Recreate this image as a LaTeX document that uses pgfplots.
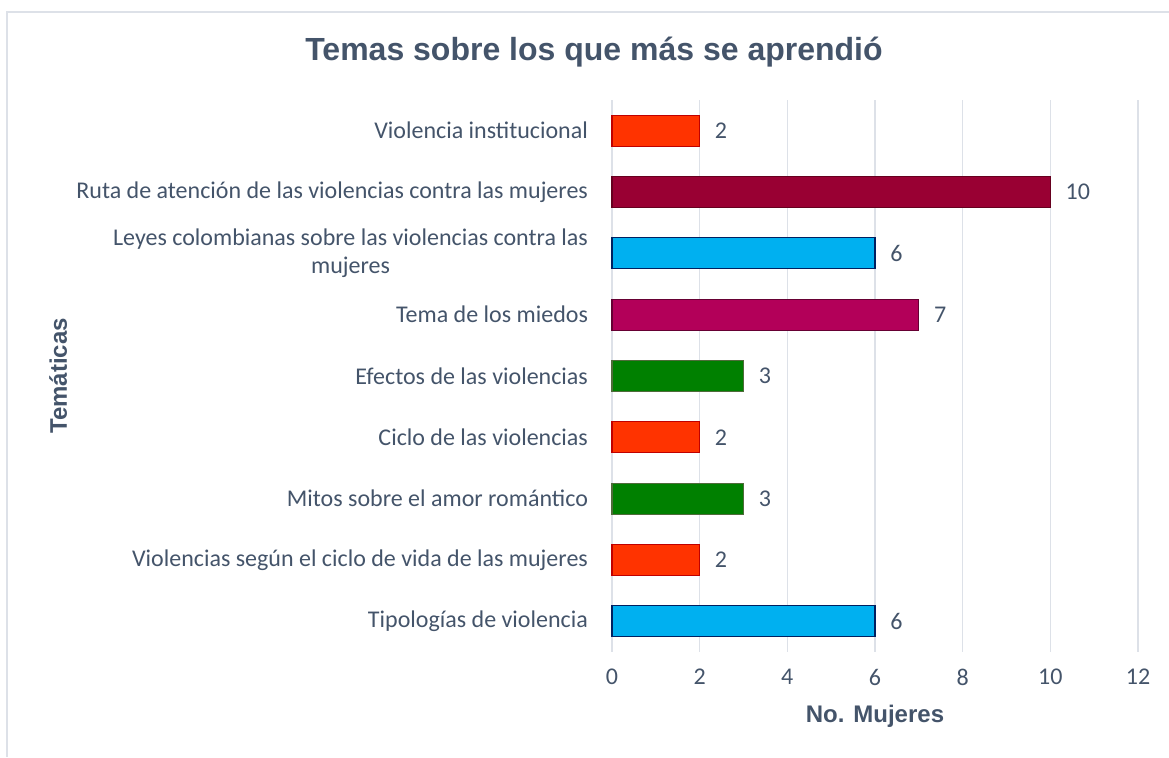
\documentclass[border=0pt]{standalone}
\usepackage{fontspec}
\setmainfont{Carlito}[Numbers=Lining]
\newfontfamily\arialfont{Liberation Sans}
\usepackage{pgfplots}
\pgfplotsset{compat=1.18}
\definecolor{txt}{HTML}{44546A}
\definecolor{gridc}{HTML}{DDE1E8}
\definecolor{framec}{HTML}{DDE1E8}
\definecolor{cred}{HTML}{FF3300}
\definecolor{credb}{HTML}{C00000}
\definecolor{cmar}{HTML}{990033}
\definecolor{cmarb}{HTML}{66001F}
\definecolor{cblue}{HTML}{00B0F0}
\definecolor{cblueb}{HTML}{002060}
\definecolor{cmag}{HTML}{B30059}
\definecolor{cmagb}{HTML}{660033}
\definecolor{cgreen}{HTML}{008000}
\definecolor{cgreenb}{HTML}{4F6B3A}
\begin{document}
\begin{tikzpicture}
% 1 px of the reference = 0.5pt
\useasboundingbox (0pt,0pt) rectangle (584.5pt,-378.5pt);
\draw[framec,line width=1pt] (3.25pt,-378.5pt) -- (3.25pt,-5.75pt) -- (584.5pt,-5.75pt);
\node[text=txt,font=\arialfont\bfseries\fontsize{16}{19}\selectfont] at (297pt,-26pt) {Temas sobre los que más se aprendió};
\begin{axis}[
  at={(306pt,-326pt)}, anchor=south west,
  scale only axis,
  width=263pt, height=276pt,
  xbar, bar shift=0pt, bar width=15.5pt,
  xmin=0, xmax=12, xtick={0,2,...,12},
  ymin=0.5, ymax=9.5, y dir=reverse,
  ytick={1,...,9},
  yticklabels={Violencia institucional,Ruta de atención de las violencias contra las mujeres,{Leyes colombianas sobre las violencias contra las\\mujeres},Tema de los miedos,Efectos de las violencias,Ciclo de las violencias,Mitos sobre el amor romántico,Violencias según el ciclo de vida de las mujeres,Tipologías de violencia},
  yticklabel style={align=center,text=txt,font=\fontsize{12}{14}\selectfont,xshift=-8.5pt},
  xticklabel style={text=txt,font=\fontsize{12}{14}\selectfont,yshift=-5pt},
  /pgf/number format/assume math mode=true,
  major tick length=0pt,
  axis line style={draw=none},
  xmajorgrids, grid style={gridc,line width=0.8pt},
  xlabel={No. Mujeres}, ylabel={Temáticas},
  xlabel style={text=txt,font=\arialfont\bfseries\fontsize{12}{14}\selectfont,yshift=-3pt},
  ylabel style={at={(axis description cs:-1.053,0.5)},anchor=center,text=txt,font=\arialfont\bfseries\fontsize{12}{14}\selectfont},
  nodes near coords,
  nodes near coords style={anchor=west,text=txt,font=\fontsize{12}{14}\selectfont,xshift=4pt},
  clip=false,
]
\addplot[fill=cred,draw=credb,line width=0.6pt] coordinates {(2,1) (2,6) (2,8)};
\addplot[fill=cmar,draw=cmarb,line width=0.6pt] coordinates {(10,2)};
\addplot[fill=cblue,draw=cblueb,line width=0.6pt] coordinates {(6,3) (6,9)};
\addplot[fill=cmag,draw=cmagb,line width=0.6pt] coordinates {(7,4)};
\addplot[fill=cgreen,draw=cgreenb,line width=0.6pt] coordinates {(3,5) (3,7)};
\end{axis}
\end{tikzpicture}
\end{document}
